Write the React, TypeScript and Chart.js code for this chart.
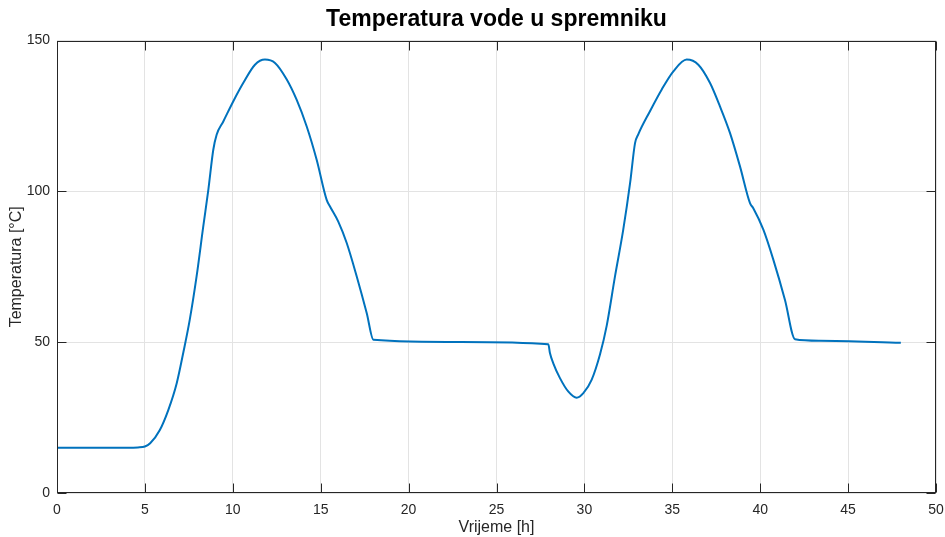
import React, { useEffect, useRef } from "react";
import { Chart, registerables } from "chart.js";

Chart.register(...registerables);

const timeH: number[] = [
  0, 2, 4, 4.6, 5.0, 5.3, 5.85, 6.33, 6.81, 7.2, 7.55, 7.94, 8.32, 8.61, 8.89, 9.08,
  9.46, 10.03, 10.6, 11.26, 11.83, 12.4, 13.07, 13.63, 14.2, 14.77, 15.34, 15.53, 16.0,
  16.48, 17.05, 17.62, 18.0, 23, 27.95, 28.04, 28.23, 28.61, 29.09, 29.56, 29.94, 30.41,
  30.89, 31.27, 31.74, 32.21, 32.6, 32.88, 33.07, 33.73, 34.4, 35.06, 35.82, 36.48,
  37.14, 37.71, 38.28, 38.85, 39.42, 39.6, 40.18, 40.75, 41.41, 41.98, 43.4, 48,
];
const tempC: number[] = [
  15, 15, 15, 15.1, 15.4, 16.5, 20.9, 27.5, 36.4, 47, 57.4, 71.8, 88.4, 100.6, 113.8, 118.8,
  123.2, 129.9, 136, 142, 143.7, 142.6, 137.1, 130.4, 121.6, 110.5, 97.2, 95.0, 90,
  82.9, 71.8, 59.6, 50.8, 50.05, 49.3, 46.4, 43.0, 38.1, 33.6, 31.6, 33.1, 37.5,
  46, 55.5, 71.8, 87.3, 102.8, 116, 119.0, 126.6, 133.8, 139.8, 143.7, 142,
  136, 128.2, 119.4, 108.3, 96.1, 94.5, 87.3, 77.3, 64, 51, 50.5, 49.8,
];
const xTicks: number[] = [0, 5, 10, 15, 20, 25, 30, 35, 40, 45, 50];
const yTicks: number[] = [0, 50, 100, 150];

const titleText = "Temperatura vode u spremniku";
const xLabel = "Vrijeme [h]";
const yLabel = "Temperatura [°C]";

const AXIS = "#262626";
const GRID = "#e3e3e3";
const FONT = "'Liberation Sans', Arial, Helvetica, sans-serif";

const boxPlugin = {
  id: "matlabBox",
  afterDatasetsDraw(chart: any) {
    const { ctx, chartArea: a, scales } = chart;
    ctx.save();
    ctx.strokeStyle = AXIS;
    ctx.lineWidth = 1;
    const L = Math.round(a.left) + 0.5;
    const R = Math.round(a.right) - 0.5;
    const T = Math.round(a.top) + 0.5;
    const B = Math.round(a.bottom) - 0.5;
    ctx.strokeRect(L, T, R - L, B - T);
    const tl = 9;
    ctx.beginPath();
    for (const v of xTicks) {
      const px = Math.round(scales.x.getPixelForValue(v)) + 0.5;
      ctx.moveTo(px, B);
      ctx.lineTo(px, B - tl);
      ctx.moveTo(px, T);
      ctx.lineTo(px, T + tl);
    }
    for (const v of yTicks) {
      const py = Math.round(scales.y.getPixelForValue(v)) + 0.5;
      ctx.moveTo(L, py);
      ctx.lineTo(L + tl, py);
      ctx.moveTo(R, py);
      ctx.lineTo(R - tl, py);
    }
    ctx.stroke();
    ctx.restore();
  },
};

export default function App() {
  const ref = useRef<HTMLCanvasElement | null>(null);
  useEffect(() => {
    document.body.style.margin = "0";
    if (!ref.current) return;
    const pts = timeH.map((x, i) => ({ x, y: tempC[i] }));
    const chart = new Chart(ref.current, {
      type: "scatter",
      data: {
        datasets: [
          {
            data: pts,
            showLine: true,
            borderColor: "#0072BD",
            backgroundColor: "#0072BD",
            borderWidth: 2,
            pointRadius: 0,
            cubicInterpolationMode: "monotone",
          } as any,
        ],
      },
      plugins: [boxPlugin],
      options: {
        animation: false,
        responsive: false,
        maintainAspectRatio: false,
        layout: { padding: { left: 0, right: 9, top: 0, bottom: 0 } },
        plugins: {
          legend: { display: false },
          tooltip: { enabled: false },
          title: {
            display: true,
            text: titleText,
            fullSize: false,
            color: "#000000",
            font: { family: FONT, size: 23, weight: "bold" },
            padding: { top: 6, bottom: 7 },
          },
        },
        scales: {
          x: {
            type: "linear",
            min: 0,
            max: 50,
            afterBuildTicks: (s: any) => {
              s.ticks = xTicks.map((v) => ({ value: v }));
            },
            afterFit: (s: any) => {
              s.height = 44;
              s.paddingLeft = 0;
              s.paddingRight = 0;
            },
            grid: { color: GRID, drawTicks: false, lineWidth: 1 },
            border: { display: false },
            ticks: {
              color: AXIS,
              font: { family: FONT, size: 14 },
              padding: 9,
              maxRotation: 0,
              autoSkip: false,
            },
            title: {
              display: true,
              text: xLabel,
              color: AXIS,
              font: { family: FONT, size: 16 },
              padding: { top: 0, bottom: 0 },
            },
          },
          y: {
            type: "linear",
            min: 0,
            max: 150,
            afterBuildTicks: (s: any) => {
              s.ticks = yTicks.map((v) => ({ value: v }));
            },
            afterFit: (s: any) => {
              s.width = 57;
              s.paddingTop = 0;
              s.paddingBottom = 0;
            },
            grid: { color: GRID, drawTicks: false, lineWidth: 1 },
            border: { display: false },
            ticks: {
              color: AXIS,
              font: { family: FONT, size: 14 },
              padding: 7,
              autoSkip: false,
            },
            title: {
              display: true,
              text: yLabel,
              color: AXIS,
              font: { family: FONT, size: 16 },
              padding: { top: 7, bottom: 0 },
            },
          },
        },
      },
    });
    return () => chart.destroy();
  }, []);
  return (
    <div style={{ width: 945, height: 537 }}>
      <canvas ref={ref} width={945} height={537} style={{ width: 945, height: 537, display: "block" }} />
    </div>
  );
}
